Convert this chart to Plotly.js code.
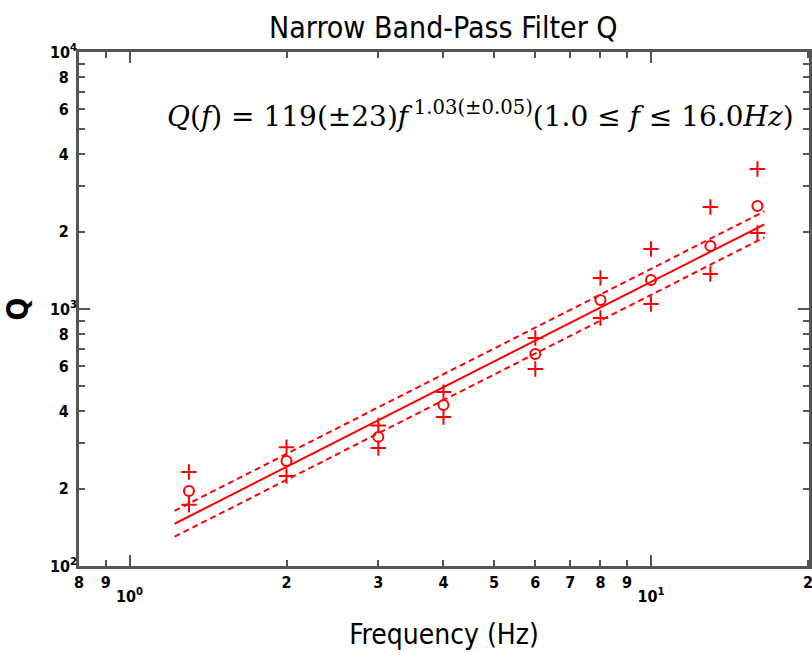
<!DOCTYPE html>
<html>
<head>
<meta charset="utf-8">
<script src="https://cdn.plot.ly/plotly-3.0.1.min.js"></script>
<style>html,body{margin:0;padding:0;background:#fff}#chart{width:812px;height:655px}</style>
</head>
<body>
<div id="chart"></div>
<script>
// Data
var freq   = [1.3, 2, 3, 4, 6, 8, 10, 13, 16];
var qMean  = [196, 256, 318, 423, 668, 1084, 1297, 1758, 2516];
var qUpper = [232, 290, 352, 475, 771, 1320, 1712, 2494, 3504];
var qLower = [173, 224, 288, 380, 584, 923, 1046, 1368, 1975];

var fitF     = [1.22, 16.5];
var fitQ     = [146, 2135];
var fitHigh  = [164, 2400];
var fitLow   = [130, 1900];

var xMinorVals = [0.8, 0.9, 2, 3, 4, 5, 6, 7, 8, 9, 20];
var xMinorText = ["8", "9", "2", "3", "4", "5", "6", "7", "8", "9", "2"];
var xDecVals   = [1, 10];
var xDecText   = ["10<sup>0</sup>", "10<sup>1</sup>"];

var yLabelVals   = [200, 400, 600, 800, 2000, 4000, 6000, 8000];
var yLabelText   = ["2", "4", "6", "8", "2", "4", "6", "8"];
var yUnlabelVals = [300, 500, 700, 900, 3000, 5000, 7000, 9000];
var yDecVals     = [100, 1000, 10000];
var yDecText     = ["10<sup>2</sup>", "10<sup>3</sup>", "10<sup>4</sup>"];

var RED = "#ff0000";
var AX = "#555555";
var SANS = "DejaVu Sans Condensed, DejaVu Sans, sans-serif";
var tickFont = {family: SANS, size: 16, color: "#000", weight: "bold"};

var traces = [
  {x: freq, y: qMean, mode: "markers", type: "scatter",
   marker: {symbol: "circle-open", size: 10, color: RED, line: {color: RED, width: 2}}},
  {x: freq, y: qUpper, mode: "markers", type: "scatter",
   marker: {symbol: "cross-thin-open", size: 11, color: RED, line: {color: RED, width: 2}}},
  {x: freq, y: qLower, mode: "markers", type: "scatter",
   marker: {symbol: "cross-thin-open", size: 11, color: RED, line: {color: RED, width: 2}}},
  {x: fitF, y: fitHigh, mode: "lines", type: "scatter",
   line: {color: RED, width: 2, dash: "6px,4px"}},
  {x: fitF, y: fitLow, mode: "lines", type: "scatter",
   line: {color: RED, width: 2, dash: "6px,4px"}},
  {x: fitF, y: fitQ, mode: "lines", type: "scatter", xaxis: "x2", yaxis: "y2",
   line: {color: RED, width: 2}}
];

var xRange = [Math.log10(0.8), Math.log10(20) + 0.002];
var yRange = [2, 4];

var layout = {
  width: 812, height: 655,
  margin: {l: 79, r: 3, t: 52, b: 89},
  paper_bgcolor: "#fff", plot_bgcolor: "#fff",
  showlegend: false,
  title: {text: "Narrow Band-Pass Filter Q", x: 0.546, xanchor: "center", y: 0.958, yanchor: "middle",
          font: {family: SANS, size: 30, color: "#000"}},
  xaxis: {type: "log", range: xRange, showgrid: false, zeroline: false,
          showline: true, linecolor: AX, linewidth: 3, mirror: "allticks",
          ticks: "inside", ticklen: 6, tickwidth: 2, tickcolor: AX,
          tickmode: "array", tickvals: xMinorVals, ticktext: xMinorText,
          tickfont: tickFont, ticklabelstandoff: 0, ticklabeloverflow: "allow",
          title: {text: "Frequency (Hz)", standoff: 34,
                  font: {family: SANS, size: 28, color: "#000"}}},
  xaxis2: {type: "log", range: xRange, overlaying: "x", side: "bottom", anchor: "y",
           showgrid: false, zeroline: false, showline: false, mirror: "allticks",
           ticks: "inside", ticklen: 11, tickwidth: 2, tickcolor: AX,
           tickmode: "array", tickvals: xDecVals, ticktext: xDecText,
           tickfont: tickFont, ticklabelstandoff: 19},
  yaxis: {type: "log", range: yRange, showgrid: false, zeroline: false,
          showline: true, linecolor: AX, linewidth: 3, mirror: "allticks",
          ticks: "inside", ticklen: 6, tickwidth: 2, tickcolor: AX,
          tickmode: "array", tickvals: yLabelVals, ticktext: yLabelText,
          minor: {tickmode: "array", tickvals: yUnlabelVals, ticks: "inside",
                  ticklen: 6, tickwidth: 2, tickcolor: AX, showgrid: false},
          tickfont: tickFont, ticklabelstandoff: 4,
          title: {text: "Q", standoff: 22,
                  font: {family: SANS, size: 30, color: "#000", weight: "bold"}}},
  yaxis2: {type: "log", range: yRange, overlaying: "y", side: "left", anchor: "x",
           showgrid: false, zeroline: false, showline: false, mirror: "allticks",
           ticks: "inside", ticklen: 11, tickwidth: 2, tickcolor: AX,
           tickmode: "array", tickvals: yDecVals, ticktext: yDecText,
           tickfont: tickFont, ticklabelstandoff: 1},
  annotations: [{
    xref: "paper", yref: "paper", x: 0.118, y: 0.878, xanchor: "left", yanchor: "middle",
    showarrow: false,
    text: "<i>Q</i>(<i>f</i>) = 119(±23)<i>f</i>\u2009<sup>1.03(±0.05)</sup>(1.0 ≤ <i>f</i> ≤ 16.0<i>Hz</i>)",
    font: {family: "DejaVu Serif, Liberation Serif, serif", size: 28, color: "#000"}
  }]
};

Plotly.newPlot("chart", traces, layout, {staticPlot: true, displayModeBar: false});
</script>
</body>
</html>
